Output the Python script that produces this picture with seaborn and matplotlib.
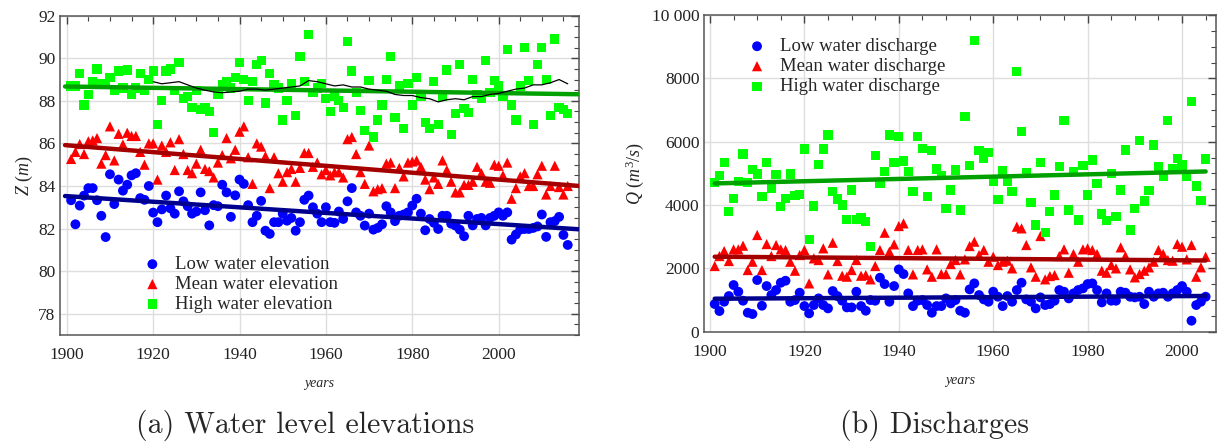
import matplotlib
matplotlib.use("Agg")
import matplotlib.pyplot as plt
from matplotlib.ticker import MultipleLocator, FixedLocator, FixedFormatter
import numpy as np
import pandas as pd
import seaborn as sns

# ---------------- data: water level elevations (m) ----------------
years_z = list(range(1901, 2017))
z_low = [83.33, 82.2, 83.08, 83.55, 83.9, 83.9, 83.33, 82.6, 81.6, 84.55,
         83.15, 84.3, 83.78, 84.06, 84.5, 84.6, 83.43, 83.35, 84.0, 82.75,
         82.3, 82.9, 83.55, 82.95, 82.7, 83.75, 83.28, 83.05, 82.7, 82.8,
         83.7, 82.86, 82.15, 83.1, 83.05, 84.06, 83.7, 82.55, 83.56, 84.3,
         84.1, 83.1, 82.3, 82.6, 83.3, 81.9, 81.75, 82.3, 82.3, 82.7,
         82.37, 82.5, 81.9, 82.3, 83.35, 83.55, 83.0, 82.7, 82.3, 83.0,
         82.3, 82.27, 82.8, 82.45, 83.28, 83.9, 82.76, 82.6, 82.14, 82.7,
         81.95, 82.03, 82.2, 83.05, 82.76, 82.35, 82.6, 82.66, 82.76, 83.08,
         83.4, 82.7, 81.92, 82.45, 82.27, 81.98, 82.6, 82.6, 82.23, 82.14,
         81.95, 81.64, 82.6, 82.15, 82.45, 82.5, 82.15, 82.5, 82.6, 82.76,
         82.6, 82.76, 81.48, 81.72, 81.95, 81.98, 81.98, 82.03, 82.1, 82.66,
         81.61, 82.3, 82.35, 82.55, 81.7, 81.23]
z_mean = [85.27, 85.6, 85.97, 85.5, 86.1, 86.14, 86.25, 85.05, 85.45, 86.8,
          85.2, 86.45, 85.95, 86.5, 86.35, 86.35, 85.6, 85.0, 86.0, 86.0,
          84.3, 85.9, 85.6, 86.05, 84.75, 86.2, 85.5, 84.75, 84.6, 85.05,
          85.7, 84.8, 84.7, 84.4, 85.1, 85.45, 86.25, 85.3, 85.7, 86.55,
          86.8, 85.35, 84.1, 86.0, 85.85, 85.4, 83.9, 85.35, 84.6, 84.2,
          84.65, 84.8, 84.2, 84.85, 85.55, 85.55, 84.9, 85.1, 84.55, 84.75,
          84.5, 84.65, 84.65, 84.4, 86.2, 86.3, 85.5, 84.65, 84.1, 85.9,
          83.75, 83.85, 83.9, 85.05, 85.1, 83.9, 84.85, 84.45, 85.1, 85.15,
          85.2, 84.9, 84.3, 83.85, 84.4, 84.1, 85.2, 84.75, 84.2, 83.7,
          83.7, 84.05, 84.05, 84.2, 84.9, 84.6, 84.2, 84.15, 85.0, 84.95,
          84.5, 85.1, 83.4, 83.9, 84.45, 84.6, 84.0, 84.0, 84.55, 84.95,
          83.6, 84.0, 84.95, 83.95, 83.6, 84.0]
z_high = [88.7, 88.7, 89.3, 87.8, 88.3, 88.9, 89.5, 88.8, 88.8, 89.1,
          88.5, 89.4, 88.6, 89.45, 88.3, 88.6, 89.3, 88.5, 89.0, 89.4,
          86.9, 88.0, 89.4, 89.5, 88.5, 89.8, 88.1, 88.2, 87.7, 88.5,
          87.6, 87.7, 87.5, 86.5, 88.3, 88.75, 88.9, 88.6, 89.1, 89.8,
          89.0, 88.0, 88.9, 89.7, 89.9, 87.9, 89.3, 88.75, 88.6, 87.1,
          88.0, 88.8, 87.3, 90.1, 88.9, 91.1, 88.4, 88.6, 88.8, 88.1,
          87.5, 88.2, 88.0, 87.7, 90.8, 89.4, 88.4, 87.55, 86.6, 88.95,
          86.3, 87.1, 87.8, 89.0, 90.1, 87.2, 88.7, 86.7, 88.8, 87.8,
          89.1, 88.2, 87.0, 86.7, 88.9, 86.9, 88.2, 89.45, 86.4, 87.4,
          89.7, 87.65, 87.45, 89.0, 88.3, 88.1, 89.9, 88.4, 88.95, 88.7,
          88.2, 90.4, 87.8, 87.1, 88.7, 90.5, 88.95, 86.9, 89.7, 90.5,
          89.0, 87.3, 90.9, 87.7, 87.6, 87.4]
ma_years = [1920, 1922, 1924, 1926, 1928, 1930, 1932, 1934, 1936, 1938,
            1940, 1942, 1944, 1946, 1948, 1950, 1952, 1954, 1956, 1958,
            1960, 1962, 1964, 1966, 1968, 1970, 1972, 1974, 1976, 1978,
            1980, 1982, 1984, 1986, 1988, 1990, 1992, 1994, 1996, 1998,
            2000, 2002, 2004, 2006, 2008, 2010, 2012, 2014, 2016]
ma_high = [88.9, 88.8, 88.85, 88.9, 88.75, 88.6, 88.5, 88.42, 88.38, 88.42,
           88.45, 88.55, 88.55, 88.5, 88.55, 88.6, 88.65, 88.7, 88.95, 88.9,
           88.8, 88.7, 88.75, 88.65, 88.65, 88.55, 88.5, 88.45, 88.3, 88.25,
           88.25, 88.15, 88.1, 87.95, 88.05, 88.1, 88.05, 88.2, 88.2, 88.3,
           88.35, 88.45, 88.55, 88.6, 88.75, 88.75, 88.85, 89.0, 88.8]

# ---------------- data: discharges (m^3/s) ----------------
years_q = list(range(1901, 2006))
q_low = [874, 653, 947, 1126, 1474, 1263, 979, 600, 558, 1632,
         821, 1442, 1158, 1316, 1547, 1610, 947, 1000, 1232, 810,
         579, 842, 1053, 842, 737, 1284, 1126, 979, 768, 768,
         1263, 810, 663, 1000, 979, 1705, 1505, 947, 1442, 1968,
         1821, 1210, 810, 979, 1000, 842, 600, 810, 810, 1053,
         895, 1000, 663, 600, 1337, 1526, 1158, 1021, 947, 1263,
         1105, 810, 1126, 947, 1316, 1547, 1021, 947, 737, 1084,
         842, 874, 979, 1316, 1263, 1053, 1210, 1316, 1368, 1505,
         1526, 1316, 926, 1210, 979, 979, 1263, 1232, 1105, 1084,
         1105, 874, 1263, 1105, 1210, 1232, 1105, 1210, 1316, 1442,
         1263, 347, 842, 947, 1105]
q_mean = [2074, 2389, 2547, 2232, 2600, 2600, 2716, 1947, 2210, 3053,
          1947, 2768, 2389, 2737, 2600, 2579, 2210, 1926, 2421, 2579,
          1526, 2316, 2263, 2632, 1810, 2810, 2232, 1768, 1737, 1947,
          2263, 1768, 1789, 1653, 2074, 2579, 3126, 2526, 2758, 3337,
          3421, 2579, 1810, 2579, 2600, 1968, 1737, 2600, 1821, 1821,
          2137, 2263, 1810, 2284, 2705, 2842, 2421, 2579, 2210, 2368,
          2105, 2210, 2242, 2000, 3316, 3263, 2737, 2032, 1737, 3021,
          1653, 1758, 1789, 2389, 2600, 1863, 2453, 2210, 2600, 2632,
          2579, 2453, 1926, 1863, 2105, 2000, 2663, 2389, 1968, 1716,
          1821, 1926, 2032, 2210, 2579, 2453, 2263, 2242, 2768, 2684,
          2284, 2737, 1737, 2032, 2368]
q_high = [4700, 4926, 5337, 3789, 4200, 4750, 5610, 4705, 5126, 4979,
          4270, 5347, 4540, 4968, 3947, 4210, 4979, 4290, 4325, 5768,
          2916, 3968, 5284, 5768, 6210, 4420, 4190, 4000, 3547, 4474,
          3547, 3610, 3474, 2684, 5558, 4690, 5053, 6210, 5337, 6158,
          5389, 5053, 4420, 6158, 5789, 4263, 5716, 5137, 4926, 3895,
          4474, 5105, 3842, 6790, 5242, 9189, 5716, 5474, 5653, 4737,
          4170, 5084, 4758, 4421, 8210, 6316, 5021, 4070, 3368, 5337,
          3126, 3789, 4316, 5210, 6663, 3842, 5053, 3526, 5242, 4316,
          5421, 4670, 3716, 3505, 5000, 3632, 4474, 5737, 3210, 3895,
          6032, 4130, 4453, 5895, 5210, 4895, 6663, 5137, 5474, 5263,
          4916, 7263, 4600, 4150, 5453]

labels_z = ["Low water elevation", "Mean water elevation", "High water elevation"]
labels_q = ["Low water discharge", "Mean water discharge", "High water discharge"]
q_tick_vals = [0, 2000, 4000, 6000, 8000, 10000]
q_tick_labels = ["0", "2000", "4000", "6000", "8000", "10 000"]

# ---------------- style ----------------
sns.set_theme(style="white")
plt.rcParams["font.family"] = ["Liberation Serif", "DejaVu Serif"]
plt.rcParams["mathtext.fontset"] = "custom"
plt.rcParams["mathtext.it"] = "Liberation Serif:italic"
plt.rcParams["mathtext.rm"] = "Liberation Serif"

marker_colors = ["#0000ff", "#ff0000", "#00ff00"]
line_colors = ["#00008f", "#a50000", "#00a000"]
markers = ["o", "^", "s"]
sizes = [50, 54, 44]

fig = plt.figure(figsize=(12.23, 4.43), dpi=100)
ax1 = fig.add_axes([0.0493, 0.2438, 0.4241, 0.7208])
ax2 = fig.add_axes([0.5759, 0.2512, 0.4184, 0.7149])


def style_axes(ax):
    ax.grid(True, which="major", color="#dedede", lw=1.0, zorder=0)
    ax.set_axisbelow(True)
    for sp in ax.spines.values():
        sp.set_color("#555555")
        sp.set_linewidth(1.1)
    ax.tick_params(which="both", direction="in", top=True, right=True,
                   color="#444444", labelsize=12.5, labelcolor="#222222")
    ax.tick_params(which="major", length=6, width=1)
    ax.tick_params(which="minor", length=3.5, width=0.8)
    ax.tick_params(axis="x", which="major", pad=9)


# ---- left panel ----
ax1.set_xlim(1899.6, 2018.6)
series_z = [z_low, z_mean, z_high]
for vals, lab, mc, lc, mk, sz in zip(series_z, labels_z, marker_colors,
                                     line_colors, markers, sizes):
    sns.scatterplot(x=years_z, y=vals, ax=ax1, color=mc, marker=mk, s=sz,
                    edgecolor="none", linewidth=0, label=lab, zorder=3)
    sns.regplot(x=years_z, y=vals, ax=ax1, scatter=False, ci=None,
                truncate=False, color=lc, line_kws=dict(lw=3.2, zorder=4))
sns.lineplot(x=ma_years, y=ma_high, ax=ax1, color="black", lw=0.9, zorder=5)
ax1.set_xlim(1898.5, 2018.6)
ax1.set_ylim(77.0, 92.0)
ax1.xaxis.set_major_locator(MultipleLocator(20))
ax1.xaxis.set_minor_locator(MultipleLocator(5))
ax1.yaxis.set_major_locator(FixedLocator([78, 80, 82, 84, 86, 88, 90, 92]))
ax1.yaxis.set_minor_locator(MultipleLocator(0.5))
style_axes(ax1)
ax1.set_xlabel("years", fontstyle="italic", fontsize=10, labelpad=10)
ax1.set_ylabel(r"$Z$ ($m$)", fontsize=13, labelpad=2)
ax1.legend(loc="upper left", bbox_to_anchor=(0.145, 0.271), borderaxespad=0,
           frameon=False, fontsize=13.5, handlelength=1.0, handletextpad=0.7,
           labelspacing=0.15, markerscale=1.0)

# ---- right panel ----
series_q = [q_low, q_mean, q_high]
for vals, lab, mc, lc, mk, sz in zip(series_q, labels_q, marker_colors,
                                     line_colors, markers, sizes):
    sns.scatterplot(x=years_q, y=vals, ax=ax2, color=mc, marker=mk, s=sz,
                    edgecolor="none", linewidth=0, label=lab, zorder=3)
    sns.regplot(x=years_q, y=vals, ax=ax2, scatter=False, ci=None,
                truncate=True, color=lc, line_kws=dict(lw=3.2, zorder=4))
ax2.set_xlim(1898.8, 2007.2)
ax2.set_ylim(0, 10000)
ax2.xaxis.set_major_locator(MultipleLocator(20))
ax2.xaxis.set_minor_locator(MultipleLocator(5))
ax2.yaxis.set_major_locator(FixedLocator(q_tick_vals))
ax2.yaxis.set_major_formatter(FixedFormatter(q_tick_labels))
ax2.yaxis.set_minor_locator(MultipleLocator(500))
style_axes(ax2)
ax2.set_xlabel("years", fontstyle="italic", fontsize=10, labelpad=10)
ax2.set_ylabel(r"$Q$ ($m^3/s$)", fontsize=13, labelpad=4)
ax2.legend(loc="upper left", bbox_to_anchor=(0.07, 0.951), borderaxespad=0,
           frameon=False, fontsize=13.5, handlelength=1.0, handletextpad=0.7,
           labelspacing=0.15, markerscale=1.0)

# ---- captions ----
fig.text(305 / 1223, 1 - 425 / 443, "(a) Water level elevations",
         family=["cmr10", "DejaVu Serif"], fontsize=21.5, ha="center", va="center")
fig.text(935 / 1223, 1 - 425 / 443, "(b) Discharges",
         family=["cmr10", "DejaVu Serif"], fontsize=21.5, ha="center", va="center")

fig.savefig("out.png", dpi=100)
